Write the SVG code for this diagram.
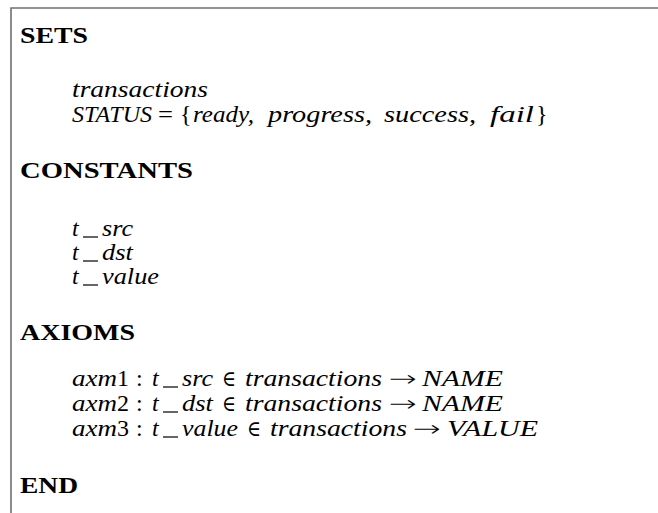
<svg xmlns="http://www.w3.org/2000/svg" width="658" height="513" viewBox="0 0 658 513">
<style>
.h{font-family:"Liberation Serif","DejaVu Serif",serif;font-weight:bold;font-size:23px;fill:#000}
.m{font-family:"Liberation Serif","DejaVu Serif",serif;font-style:italic;font-size:24px;fill:#000}
.r{font-family:"Liberation Serif","DejaVu Serif",serif;font-size:24px;fill:#000}
.s{font-family:"DejaVu Serif",serif;font-size:22px;fill:#000}
.a{font-family:"DejaVu Sans",sans-serif;font-weight:200;font-size:22px;fill:#000}
.u{stroke:#000;stroke-width:1.2}
.frame{fill:none;stroke:#707070;stroke-width:1.6}
</style>
<rect width="658" height="513" fill="#fff"/>
<path class="frame" d="M11 513 V8 H658"/>

<g id="sets">
<text class="h" x="20" y="43" textLength="68" lengthAdjust="spacingAndGlyphs">SETS</text>
<text class="m" x="72" y="97" textLength="136" lengthAdjust="spacingAndGlyphs">transactions</text>
<text class="m" x="72" y="122" textLength="80" lengthAdjust="spacingAndGlyphs">STATUS</text>
<text class="r" x="158" y="122" textLength="15" lengthAdjust="spacingAndGlyphs">=</text>
<text class="r" x="180" y="122">{</text>
<text class="m" x="193" y="122" textLength="61" lengthAdjust="spacingAndGlyphs">ready,</text>
<text class="m" x="268" y="122" textLength="104" lengthAdjust="spacingAndGlyphs">progress,</text>
<text class="m" x="384" y="122" textLength="92" lengthAdjust="spacingAndGlyphs">success,</text>
<text class="m" x="490" y="122" textLength="44" lengthAdjust="spacingAndGlyphs">fail</text>
<text class="r" x="536" y="122">}</text>
</g>

<g id="constants">
<text class="h" x="20" y="178" textLength="173" lengthAdjust="spacingAndGlyphs">CONSTANTS</text>
<text class="m" x="72" y="236">t</text>
<line class="u" x1="83" y1="237" x2="98" y2="237"/>
<text class="m" x="102" y="236" textLength="31" lengthAdjust="spacingAndGlyphs">src</text>
<text class="m" x="72" y="260">t</text>
<line class="u" x1="83" y1="261" x2="98" y2="261"/>
<text class="m" x="102" y="260" textLength="31" lengthAdjust="spacingAndGlyphs">dst</text>
<text class="m" x="72" y="284">t</text>
<line class="u" x1="83" y1="285" x2="98" y2="285"/>
<text class="m" x="102" y="284" textLength="57" lengthAdjust="spacingAndGlyphs">value</text>
</g>

<g id="axioms">
<text class="h" x="20" y="340" textLength="115" lengthAdjust="spacingAndGlyphs">AXIOMS</text>
<text class="m" x="72" y="386" textLength="45" lengthAdjust="spacingAndGlyphs">axm</text><text class="r" x="117" y="386">1</text>
<text class="r" x="136" y="386">:</text>
<text class="m" x="152" y="386">t</text>
<line class="u" x1="163" y1="387" x2="178" y2="387"/>
<text class="m" x="182" y="386" textLength="31" lengthAdjust="spacingAndGlyphs">src</text>
<text class="s" x="222" y="386" textLength="14" lengthAdjust="spacingAndGlyphs">∈</text>
<text class="m" x="245" y="386" textLength="137" lengthAdjust="spacingAndGlyphs">transactions</text>
<text class="a" x="389" y="386" textLength="28" lengthAdjust="spacingAndGlyphs">→</text>
<text class="m" x="422" y="386" textLength="81" lengthAdjust="spacingAndGlyphs">NAME</text>

<text class="m" x="72" y="411" textLength="45" lengthAdjust="spacingAndGlyphs">axm</text><text class="r" x="117" y="411">2</text>
<text class="r" x="136" y="411">:</text>
<text class="m" x="152" y="411">t</text>
<line class="u" x1="163" y1="412" x2="178" y2="412"/>
<text class="m" x="182" y="411" textLength="31" lengthAdjust="spacingAndGlyphs">dst</text>
<text class="s" x="222" y="411" textLength="14" lengthAdjust="spacingAndGlyphs">∈</text>
<text class="m" x="245" y="411" textLength="137" lengthAdjust="spacingAndGlyphs">transactions</text>
<text class="a" x="389" y="411" textLength="28" lengthAdjust="spacingAndGlyphs">→</text>
<text class="m" x="422" y="411" textLength="81" lengthAdjust="spacingAndGlyphs">NAME</text>

<text class="m" x="72" y="436" textLength="45" lengthAdjust="spacingAndGlyphs">axm</text><text class="r" x="117" y="436">3</text>
<text class="r" x="136" y="436">:</text>
<text class="m" x="152" y="436">t</text>
<line class="u" x1="163" y1="437" x2="178" y2="437"/>
<text class="m" x="182" y="436" textLength="56" lengthAdjust="spacingAndGlyphs">value</text>
<text class="s" x="247" y="436" textLength="14" lengthAdjust="spacingAndGlyphs">∈</text>
<text class="m" x="270" y="436" textLength="137" lengthAdjust="spacingAndGlyphs">transactions</text>
<text class="a" x="413" y="436" textLength="28" lengthAdjust="spacingAndGlyphs">→</text>
<text class="m" x="447" y="436" textLength="91" lengthAdjust="spacingAndGlyphs">VALUE</text>
</g>

<g id="end">
<text class="h" x="20" y="493" textLength="58" lengthAdjust="spacingAndGlyphs">END</text>
</g>
</svg>
